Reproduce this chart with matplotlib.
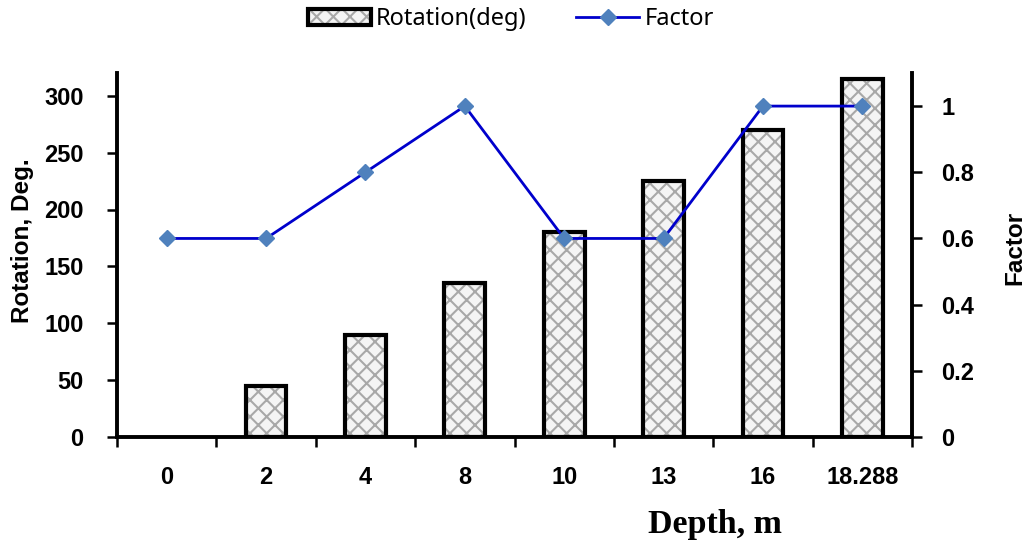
import matplotlib
matplotlib.use("Agg")
import matplotlib.pyplot as plt
from matplotlib.patches import Patch
from matplotlib.lines import Line2D
import numpy as np

depth_labels = ["0", "2", "4", "8", "10", "13", "16", "18.288"]
rotation_deg = [0, 45, 90, 135, 180, 225, 270, 315]
factor = [0.6, 0.6, 0.8, 1.0, 0.6, 0.6, 1.0, 1.0]

plt.rcParams['font.family'] = ['Noto Sans', 'DejaVu Sans']
plt.rcParams['hatch.linewidth'] = 1.5
BOLD = ['Liberation Sans', 'DejaVu Sans']

fig = plt.figure(figsize=(10.28, 5.41), dpi=100)
ax = fig.add_axes([117/1028, 1-437/541, (912-117)/1028, (437-73)/541])
x = np.arange(len(depth_labels))

HATCH_C = '#a8a8a8'
ax.bar(x, rotation_deg, width=0.41, color='#f4f4f4', edgecolor=HATCH_C,
       hatch='xx', linewidth=0, zorder=2)
ax.bar(x, rotation_deg, width=0.41, fill=False, edgecolor='black',
       linewidth=[0 if v == 0 else 3.0 for v in rotation_deg], zorder=3)

ax.set_xlim(-0.5, len(depth_labels) - 0.5)
ax.set_ylim(0, 320)
ax.set_yticks([0, 50, 100, 150, 200, 250, 300])
ax.set_xticks(x)
ax.set_xticklabels(depth_labels)
ax.set_xticks(np.arange(-0.5, len(depth_labels) + 0.5, 1), minor=True)
ax.tick_params(axis='x', which='major', length=0, pad=21)
ax.tick_params(axis='x', which='minor', length=7, width=1.8, direction='out')
ax.tick_params(axis='y', length=7, width=1.8, direction='out', pad=17)
for lab in ax.get_xticklabels() + ax.get_yticklabels():
    lab.set_family(BOLD)
    lab.set_fontweight('bold')
    lab.set_fontsize(17)
ax.spines['top'].set_visible(False)
ax.spines['right'].set_visible(False)
for s in ['left', 'bottom']:
    ax.spines[s].set_linewidth(2.8)

ax2 = ax.twinx()
LINE_C = '#0000CC'
MARK_C = '#4F81BD'
ax2.plot(x, factor, color=LINE_C, linewidth=2.0, marker='D',
         markersize=8, markerfacecolor=MARK_C, markeredgecolor=MARK_C, zorder=5)
ax2.set_ylim(0, 1.1)
ax2.set_yticks([0, 0.2, 0.4, 0.6, 0.8, 1.0])
ax2.set_yticklabels(["0", "0.2", "0.4", "0.6", "0.8", "1"])
ax2.tick_params(axis='y', length=7, width=1.8, direction='out', pad=14)
for lab in ax2.get_yticklabels():
    lab.set_family(BOLD)
    lab.set_fontweight('bold')
    lab.set_fontsize(17)
ax2.spines['top'].set_visible(False)
ax2.spines['left'].set_visible(False)
ax2.spines['bottom'].set_visible(False)
ax2.spines['right'].set_linewidth(2.8)

fig.text(23/1028, 1-241/541, "Rotation, Deg.", fontsize=17.5, fontweight='bold',
         family=BOLD, rotation=90, ha='center', va='center')
fig.text(1015/1028, 1-248/541, "Factor", fontsize=17.5, fontweight='bold',
         family=BOLD, rotation=90, ha='center', va='center')
fig.text(715/1028, 1-533/541, "Depth, m", fontsize=24.5, fontweight='bold',
         family='Liberation Serif', ha='center', va='baseline')

h1 = (Patch(facecolor='#f4f4f4', edgecolor=HATCH_C, hatch='xx', linewidth=0),
      Patch(fill=False, edgecolor='black', linewidth=3))
h2 = Line2D([], [], color=LINE_C, linewidth=2.0, marker='D', markersize=8,
            markerfacecolor=MARK_C, markeredgecolor=MARK_C)
fig.legend([h1, h2], ["Rotation(deg)", "Factor"], loc='center',
           bbox_to_anchor=(511/1028, 1-19/541), ncol=2, frameon=False,
           fontsize=17, handlelength=2.67, handleheight=0.64, columnspacing=2.1,
           handletextpad=0.21, borderpad=0.1)

fig.savefig("out.png", dpi=100)
